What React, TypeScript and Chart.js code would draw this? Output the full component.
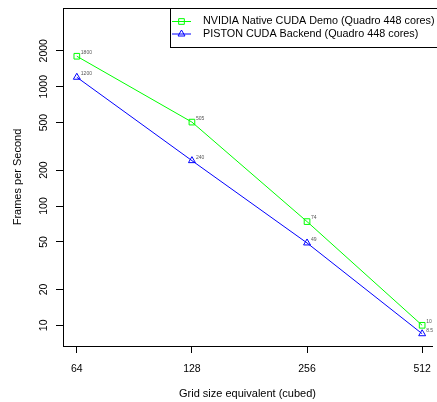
import React, { useEffect, useRef } from "react";
import { Chart, registerables } from "chart.js";

Chart.register(...registerables);

const gridSizes = [64, 128, 256, 512];
const nvidiaFps = [1800, 505, 74, 10];
const pistonFps = [1200, 240, 49, 8.5];
const nvidiaLabels = ["1800", "505", "74", "10"];
const pistonLabels = ["1200", "240", "49", "8.5"];
const yTicks = [10, 20, 50, 100, 200, 500, 1000, 2000];
const seriesNames = [
  "NVIDIA Native CUDA Demo (Quadro 448 cores)",
  "PISTON CUDA Backend (Quadro 448 cores)",
];
const seriesColors = ["#00FF00", "#0000FF"];
const seriesStyles = ["rect", "triangle"];
const pointLabels = [nvidiaLabels, pistonLabels];

const FONT = "'Liberation Sans', Arial, Helvetica, sans-serif";

function drawMarker(ctx: CanvasRenderingContext2D, style: string, x: number, y: number, r: number) {
  ctx.beginPath();
  if (style === "rect") {
    const s = r * Math.SQRT1_2;
    ctx.rect(x - s, y - s, 2 * s, 2 * s);
  } else {
    for (let i = 0; i < 3; i++) {
      const a = (i * 2 * Math.PI) / 3;
      const px = x + Math.sin(a) * r;
      const py = y - Math.cos(a) * r;
      if (i === 0) ctx.moveTo(px, py);
      else ctx.lineTo(px, py);
    }
    ctx.closePath();
  }
  ctx.stroke();
}

const decorPlugin = {
  id: "decor",
  afterDatasetsDraw(chart: any) {
    const ctx = chart.ctx as CanvasRenderingContext2D;
    const area = chart.chartArea;
    ctx.save();
    // top border of the box
    ctx.strokeStyle = "#000";
    ctx.lineWidth = 1;
    ctx.beginPath();
    ctx.moveTo(area.left, Math.round(area.top) + 0.5);
    ctx.lineTo(chart.width, Math.round(area.top) + 0.5);
    ctx.stroke();

    // point value labels
    ctx.font = `5px ${FONT}`;
    ctx.fillStyle = "#555";
    ctx.textBaseline = "middle";
    ctx.textAlign = "left";
    chart.data.datasets.forEach((ds: any, di: number) => {
      const meta = chart.getDatasetMeta(di);
      meta.data.forEach((pt: any, i: number) => {
        ctx.fillText(pointLabels[di][i], pt.x + 4, pt.y - 3.5);
      });
    });

    // legend box
    const bx = 170.5;
    const by = Math.round(area.top) + 0.5;
    const bh = 39;
    ctx.fillStyle = "#fff";
    ctx.fillRect(bx, by, chart.width - bx + 5, bh);
    ctx.strokeStyle = "#000";
    ctx.strokeRect(bx, by, chart.width - bx + 5, bh);
    ctx.font = `10.8px ${FONT}`;
    ctx.textBaseline = "middle";
    ctx.fillStyle = "#000";
    seriesNames.forEach((name, i) => {
      const y = 21.5 + i * 12.5;
      ctx.strokeStyle = seriesColors[i];
      ctx.beginPath();
      ctx.moveTo(172, y);
      ctx.lineTo(191, y);
      ctx.stroke();
      drawMarker(ctx, seriesStyles[i], 181.5, y, 4);
      ctx.fillStyle = "#000";
      ctx.fillText(name, 203, y);
    });
    ctx.restore();
  },
};

export default function App() {
  const ref = useRef<HTMLCanvasElement>(null);
  useEffect(() => {
    if (!ref.current) return;
    const chart = new Chart(ref.current, {
      type: "line",
      data: {
        datasets: [nvidiaFps, pistonFps].map((vals, di) => ({
          label: seriesNames[di],
          data: vals.map((v, i) => ({ x: gridSizes[i], y: v })),
          borderColor: seriesColors[di],
          backgroundColor: "rgba(0,0,0,0)",
          borderWidth: 1,
          pointStyle: seriesStyles[di] as any,
          pointRadius: 4,
          pointBorderWidth: 1,
          pointBorderColor: seriesColors[di],
          pointBackgroundColor: "rgba(0,0,0,0)",
          tension: 0,
          fill: false,
        })),
      },
      options: {
        animation: false,
        responsive: false,
        maintainAspectRatio: false,
        devicePixelRatio: 1,
        layout: { padding: { top: 8, left: 0, right: 0, bottom: 0 } },
        plugins: { legend: { display: false }, tooltip: { enabled: false } },
        scales: {
          x: {
            type: "logarithmic",
            min: 58.89,
            max: 543.3,
            bounds: "data",
            afterBuildTicks: (scale: any) => {
              scale.ticks = gridSizes.map((v) => ({ value: v }));
            },
            afterFit: (scale: any) => {
              scale.height = 56;
              scale.paddingLeft = 0;
              scale.paddingRight = 0;
            },
            grid: {
              drawOnChartArea: false,
              drawTicks: true,
              tickLength: 7,
              tickColor: "#000",
              tickWidth: 1,
            },
            border: { display: true, color: "#000", width: 1 },
            ticks: {
              autoSkip: false,
              maxRotation: 0,
              minRotation: 0,
              padding: 10,
              color: "#000",
              font: { family: FONT, size: 10.5 },
              callback: (v: any) => String(v),
            },
            title: {
              display: true,
              text: "Grid size equivalent (cubed)",
              color: "#000",
              font: { family: FONT, size: 11 },
              padding: { top: 0, bottom: 1 },
            },
          },
          y: {
            type: "logarithmic",
            min: 6.707,
            max: 4567,
            bounds: "data",
            afterBuildTicks: (scale: any) => {
              scale.ticks = yTicks.map((v) => ({ value: v }));
            },
            afterFit: (scale: any) => {
              scale.width = 63;
              scale.paddingTop = 0;
              scale.paddingBottom = 0;
            },
            grid: {
              drawOnChartArea: false,
              drawTicks: true,
              tickLength: 7,
              tickColor: "#000",
              tickWidth: 1,
            },
            border: { display: true, color: "#000", width: 1 },
            ticks: {
              autoSkip: false,
              minRotation: 90,
              maxRotation: 90,
              crossAlign: "center",
              padding: 0,
              color: "#000",
              font: { family: FONT, size: 10.5 },
              callback: (v: any) => String(v),
            },
            title: {
              display: true,
              text: "Frames per Second",
              color: "#000",
              font: { family: FONT, size: 11 },
              padding: { top: 11, bottom: 0 },
            },
          },
        },
      },
      plugins: [decorPlugin],
    });
    return () => chart.destroy();
  }, []);
  return (
    <div style={{ position: "fixed", left: 0, top: 0, width: 437, height: 402, background: "#fff" }}>
      <canvas ref={ref} width={437} height={402} style={{ display: "block", width: 437, height: 402 }} />
    </div>
  );
}
